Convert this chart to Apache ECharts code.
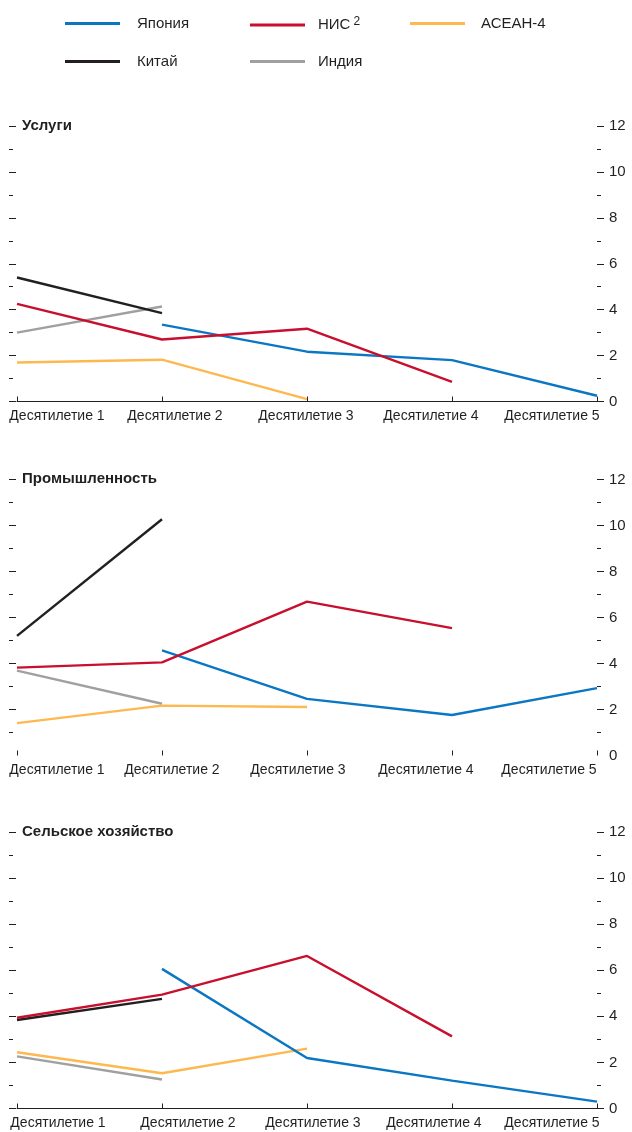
<!DOCTYPE html>
<html>
<head>
<meta charset="utf-8">
<script src="https://cdn.jsdelivr.net/npm/echarts@6/dist/echarts.min.js"></script>
<style>
  html, body { margin: 0; padding: 0; background: #fff; }
  #chart { width: 632px; height: 1132px; }
</style>
</head>
<body>
<div id="chart"></div>
<script>
// Decades on the horizontal axis
const categories = ['Десятилетие 1', 'Десятилетие 2', 'Десятилетие 3', 'Десятилетие 4', 'Десятилетие 5'];
const yTickValues = [0, 2, 4, 6, 8, 10, 12];

// Услуги
const servicesJapan = [null, 3.35, 2.17, 1.8, 0.25];
const servicesNIC   = [4.25, 2.7, 3.17, 0.85, null];
const servicesASEAN = [1.7, 1.82, 0.1, null, null];
const servicesChina = [5.4, 3.85, null, null, null];
const servicesIndia = [3.0, 4.14, null, null, null];

// Промышленность
const industryJapan = [null, 4.57, 2.46, 1.76, 2.93];
const industryNIC   = [3.82, 4.05, 6.69, 5.54, null];
const industryASEAN = [1.41, 2.17, 2.11, null, null];
const industryChina = [5.2, 10.27, null, null, null];
const industryIndia = [3.69, 2.25, null, null, null];

// Сельское хозяйство
const agriJapan = [null, 6.06, 2.19, 1.21, 0.3];
const agriNIC   = [3.94, 4.94, 6.62, 3.13, null];
const agriASEAN = [2.44, 1.53, 2.6, null, null];
const agriChina = [3.84, 4.76, null, null, null];
const agriIndia = [2.26, 1.26, null, null, null];

const panelTitles = ['Услуги', 'Промышленность', 'Сельское хозяйство'];

const COLORS = {
  'Япония': '#0b77c2',
  'НИС': '#c8102e',
  'АСЕАН-4': '#fdb94f',
  'Китай': '#231f20',
  'Индия': '#a0a0a2'
};
const TEXT = '#231f20';
const FONT = '"Liberation Sans", Arial, sans-serif';

const panels = [
  { India: servicesIndia, China: servicesChina, ASEAN: servicesASEAN, Japan: servicesJapan, NIC: servicesNIC },
  { India: industryIndia, China: industryChina, ASEAN: industryASEAN, Japan: industryJapan, NIC: industryNIC },
  { India: agriIndia, China: agriChina, ASEAN: agriASEAN, Japan: agriJapan, NIC: agriNIC }
];

// Layout of the three stacked panels (plot area top / height)
const layout = [
  { top: 126, height: 275.5, baseLine: true },
  { top: 479.5, height: 276, baseLine: false },
  { top: 832, height: 276.5, baseLine: true }
];
// horizontal nudges of the decade labels, per panel
const labelShift = [
  [40, 13, -1, -21, -45],
  [40, 10, -9, -26, -48],
  [41, 26, 6, -18, -45]
];

const grids = [], xAxes = [], yAxes = [], series = [], titles = [];

layout.forEach((L, p) => {
  grids.push({ left: 17, right: 35, top: L.top, height: L.height });

  const rich = {};
  labelShift[p].forEach((d, k) => {
    rich['s' + k] = {
      fontFamily: FONT, fontSize: 14, color: TEXT,
      padding: d >= 0 ? [0, 0, 0, 2 * d] : [0, -2 * d, 0, 0]
    };
  });

  xAxes.push({
    type: 'category', gridIndex: p, data: categories, boundaryGap: false,
    axisLine: { show: L.baseLine, lineStyle: { color: TEXT, width: 1 } },
    axisTick: { show: true, inside: true, length: 5, alignWithLabel: true, lineStyle: { color: TEXT } },
    axisLabel: {
      interval: 0, margin: 8,
      formatter: (v, i) => '{s' + i + '|' + v + '}',
      rich: rich
    },
    splitLine: { show: false }
  });

  const even = L.baseLine ? [0, 2, 4, 6, 8, 10, 12] : [2, 4, 6, 8, 10, 12];
  const odd = [1, 3, 5, 7, 9, 11];
  const base = { type: 'value', gridIndex: p, min: 0, max: 12, interval: 2,
    axisLine: { show: false }, splitLine: { show: false } };

  // right axis with value labels
  yAxes.push(Object.assign({}, base, {
    position: 'right',
    axisTick: { show: true, length: 7, customValues: even, lineStyle: { color: TEXT } },
    axisLabel: { show: true, margin: 12, fontFamily: FONT, fontSize: 15, color: TEXT, customValues: yTickValues }
  }));
  yAxes.push(Object.assign({}, base, {
    position: 'right',
    axisTick: { show: true, length: 4, customValues: odd, lineStyle: { color: TEXT } },
    axisLabel: { show: false }
  }));
  // left tick marks only
  yAxes.push(Object.assign({}, base, {
    position: 'left', offset: 8,
    axisTick: { show: true, inside: true, length: 7, customValues: even, lineStyle: { color: TEXT } },
    axisLabel: { show: false }
  }));
  yAxes.push(Object.assign({}, base, {
    position: 'left', offset: 8,
    axisTick: { show: true, inside: true, length: 4, customValues: odd, lineStyle: { color: TEXT } },
    axisLabel: { show: false }
  }));

  titles.push({
    text: panelTitles[p], left: 22, top: L.top - 8, padding: 0,
    textStyle: { fontFamily: FONT, fontSize: 15, fontWeight: 'bold', color: TEXT }
  });

  const d = panels[p];
  const order = [['Индия', d.India], ['Китай', d.China], ['АСЕАН-4', d.ASEAN], ['Япония', d.Japan], ['НИС', d.NIC]];
  order.forEach(([name, values]) => {
    series.push({
      name: name, type: 'line', xAxisIndex: p, yAxisIndex: p * 4,
      data: values, symbol: 'none', connectNulls: false, silent: true,
      lineStyle: { color: COLORS[name], width: 2.4 },
      itemStyle: { color: COLORS[name] }
    });
  });
});

// legend entries: name, left, top, text gap
const legendItems = [
  ['Япония', 65, 16, 12],
  ['НИС', 250, 16, 8],
  ['АСЕАН-4', 410, 16, 11],
  ['Китай', 65, 54, 12],
  ['Индия', 250, 54, 8]
];
const legends = legendItems.map(([name, left, top, gap]) => ({
  data: [name], left: left, top: top, padding: 0,
  icon: 'rect', itemWidth: 55, itemHeight: 3,
  selectedMode: false,
  formatter: n => n === 'НИС' ? '{t|НИС}{s|2}' : '{t|' + n + '}',
  textStyle: {
    fontFamily: FONT, fontSize: 15, color: TEXT,
    rich: {
      t: { fontFamily: FONT, fontSize: 15, color: TEXT, lineHeight: 18, padding: [0, 0, 0, gap] },
      s: { fontFamily: FONT, fontSize: 12, color: TEXT, lineHeight: 18, verticalAlign: 'top', padding: [0, 0, 6, 3] }
    }
  }
}));

const chart = echarts.init(document.getElementById('chart'), null, { renderer: 'canvas' });
chart.setOption({
  animation: false,
  backgroundColor: '#ffffff',
  title: titles,
  legend: legends,
  grid: grids,
  xAxis: xAxes,
  yAxis: yAxes,
  series: series
});
</script>
</body>
</html>
